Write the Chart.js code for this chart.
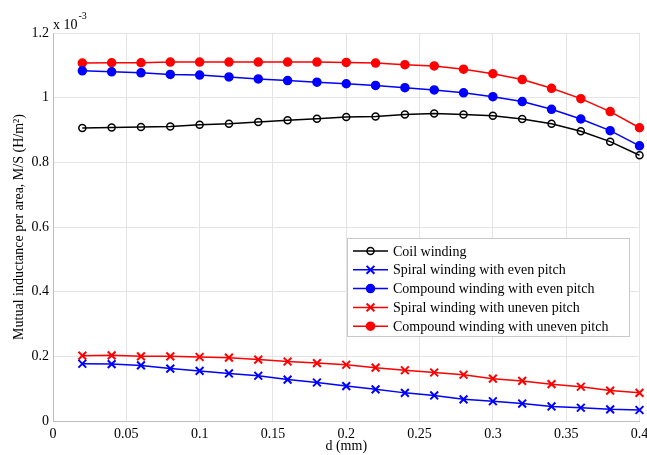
<!DOCTYPE html>
<html>
<head>
<meta charset="utf-8">
<script src="https://cdn.jsdelivr.net/npm/chart.js@4/dist/chart.umd.min.js"></script>
<style>
  html, body { margin: 0; padding: 0; background: #fff; }
  #chart { display: block; }
</style>
</head>
<body>
<canvas id="chart" width="647" height="455"></canvas>
<script>
// d (mm)
const dValues = [0.02, 0.04, 0.06, 0.08, 0.10, 0.12, 0.14, 0.16, 0.18, 0.20,
                 0.22, 0.24, 0.26, 0.28, 0.30, 0.32, 0.34, 0.36, 0.38, 0.40];

// M/S in units of 1e-3 H/m^2
const coilWinding = [0.906, 0.908, 0.909, 0.911, 0.916, 0.919, 0.925, 0.930, 0.935, 0.940,
                     0.942, 0.948, 0.951, 0.948, 0.944, 0.934, 0.919, 0.896, 0.864, 0.822];
const spiralEven = [0.177, 0.176, 0.172, 0.162, 0.155, 0.147, 0.140, 0.128, 0.119, 0.108,
                    0.098, 0.087, 0.079, 0.067, 0.061, 0.054, 0.045, 0.041, 0.036, 0.034];
const compoundEven = [1.083, 1.080, 1.077, 1.072, 1.070, 1.064, 1.058, 1.053, 1.048, 1.043,
                      1.038, 1.031, 1.024, 1.015, 1.003, 0.988, 0.964, 0.934, 0.898, 0.851];
const spiralUneven = [0.202, 0.203, 0.200, 0.200, 0.198, 0.196, 0.190, 0.184, 0.179, 0.174,
                      0.165, 0.157, 0.150, 0.143, 0.131, 0.124, 0.114, 0.106, 0.094, 0.087];
const compoundUneven = [1.107, 1.108, 1.108, 1.110, 1.110, 1.110, 1.110, 1.110, 1.110, 1.109,
                        1.107, 1.102, 1.098, 1.088, 1.074, 1.056, 1.029, 0.997, 0.957, 0.907];

const seriesLabels = [
  'Coil winding',
  'Spiral winding with even pitch',
  'Compound winding with even pitch',
  'Spiral winding with uneven pitch',
  'Compound winding with uneven pitch'
];

const FONT = '"Liberation Serif", "Times New Roman", serif';

function toPoints(values) {
  return values.map((v, i) => ({ x: dValues[i], y: v }));
}

function series(label, values, color, style, filled) {
  return {
    label: label,
    data: toPoints(values),
    borderColor: color,
    backgroundColor: filled ? color : '#fff',
    pointStyle: style,
    pointRadius: style === 'crossRot' ? 5.5 : (filled ? 4 : 3.5),
    pointBorderWidth: style === 'crossRot' ? 2 : 1.5,
    pointBorderColor: color,
    pointBackgroundColor: filled ? color : 'rgba(0,0,0,0)',
    borderWidth: 1.5,
    tension: 0,
    clip: false
  };
}

// drop trailing zeros: 1.0 -> 1, 0.10 -> 0.1
function plainTick(value) {
  return String(Number(value.toFixed(2)));
}

// legend box drawn inside the plot, MATLAB style
const boxLegend = {
  id: 'boxLegend',
  afterDraw(chart) {
    const ctx = chart.ctx;
    const x0 = 347, y0 = 238, w = 282, h = 98;
    ctx.save();
    ctx.fillStyle = '#fff';
    ctx.fillRect(x0, y0, w, h);
    ctx.strokeStyle = '#c8c8c8';
    ctx.lineWidth = 1;
    ctx.strokeRect(x0 + 0.5, y0 + 0.5, w, h);
    ctx.font = '14px ' + FONT;
    ctx.textBaseline = 'middle';
    chart.data.datasets.forEach((ds, i) => {
      const y = 251 + i * 18.8;
      ctx.strokeStyle = ds.borderColor;
      ctx.lineWidth = 1.5;
      ctx.beginPath();
      ctx.moveTo(353, y);
      ctx.lineTo(388, y);
      ctx.stroke();
      ctx.fillStyle = ds.pointBackgroundColor;
      ctx.strokeStyle = ds.pointBorderColor;
      ctx.lineWidth = ds.pointBorderWidth;
      Chart.helpers.drawPoint(ctx, {
        pointStyle: ds.pointStyle,
        radius: ds.pointRadius,
        borderWidth: ds.pointBorderWidth,
        rotation: 0
      }, 370.5, y);
      ctx.fillStyle = '#000';
      ctx.fillText(ds.label, 393, y + 1);
    });
    ctx.restore();
  }
};

// "x 10^-3" exponent label above the y axis
const exponentLabel = {
  id: 'exponentLabel',
  afterDraw(chart) {
    const ctx = chart.ctx;
    ctx.save();
    ctx.fillStyle = '#000';
    ctx.textBaseline = 'alphabetic';
    ctx.font = '14px ' + FONT;
    ctx.fillText('x 10', 53, 29);
    const w = ctx.measureText('x 10').width;
    ctx.font = '10px ' + FONT;
    ctx.fillText('-3', 53 + w + 1, 19);
    ctx.restore();
  }
};

new Chart(document.getElementById('chart'), {
  type: 'line',
  data: {
    datasets: [
      series(seriesLabels[0], coilWinding, '#000000', 'circle', false),
      series(seriesLabels[1], spiralEven, '#0000ff', 'crossRot', false),
      series(seriesLabels[2], compoundEven, '#0000ff', 'circle', true),
      series(seriesLabels[3], spiralUneven, '#ff0000', 'crossRot', false),
      series(seriesLabels[4], compoundUneven, '#ff0000', 'circle', true)
    ]
  },
  options: {
    responsive: false,
    animation: false,
    devicePixelRatio: 1,
    layout: { padding: { top: 33, right: 6, left: 0, bottom: 0 } },
    plugins: {
      legend: { display: false },
      tooltip: { enabled: false }
    },
    scales: {
      x: {
        type: 'linear',
        min: 0,
        max: 0.4,
        ticks: {
          stepSize: 0.05,
          color: '#000',
          padding: 5,
          maxRotation: 0,
          callback: plainTick,
          font: { family: FONT, size: 14 }
        },
        grid: { color: '#e4e4e4', drawTicks: false },
        border: { color: '#bdbdbd' },
        title: {
          display: true,
          text: 'd (mm)',
          color: '#000',
          padding: { top: 0, bottom: 0 },
          font: { family: FONT, size: 14 }
        },
        afterFit(scale) {
          scale.height = 34;
          scale.paddingLeft = 0;
          scale.paddingRight = 0;
        }
      },
      y: {
        min: 0,
        max: 1.2,
        ticks: {
          stepSize: 0.2,
          color: '#000',
          padding: 4,
          callback: plainTick,
          font: { family: FONT, size: 14 }
        },
        grid: { color: '#e4e4e4', drawTicks: false },
        border: { color: '#bdbdbd' },
        title: {
          display: true,
          text: 'Mutual inductance per area, M/S (H/m²)',
          color: '#000',
          padding: { top: 11, bottom: 0 },
          font: { family: FONT, size: 14 }
        },
        afterFit(scale) {
          scale.width = 53;
          scale.paddingTop = 0;
          scale.paddingBottom = 0;
        }
      }
    }
  },
  plugins: [boxLegend, exponentLabel]
});
</script>
</body>
</html>
